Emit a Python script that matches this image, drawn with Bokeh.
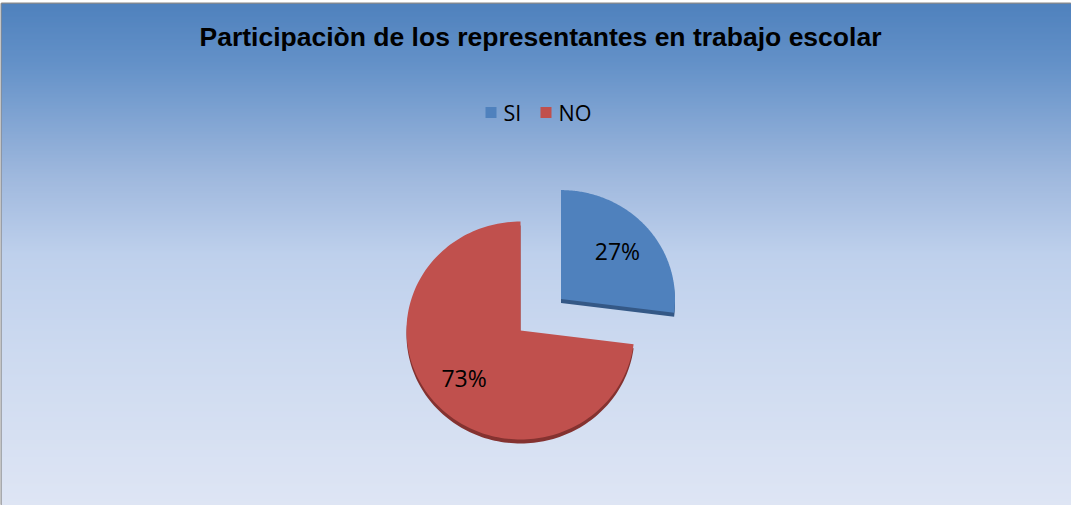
import numpy as np
from bokeh.plotting import figure
from bokeh.models import Range1d, ColumnDataSource
from bokeh.core.properties import value
from bokeh.embed import file_html
from bokeh.resources import INLINE

# ---- data ----
categories = ["SI", "NO"]
percentages = [27, 73]
slice_colors = ["#4f81bd", "#c0504d"]
edge_colors = ["#345886", "#843230"]
title_text = "Participaciòn de los representantes en trabajo escolar"

W, H = 1071, 505
FW, FH = 1070, 502  # frame size in pixels (data units == pixels)

p = figure(width=W, height=H, output_backend="svg", toolbar_location=None,
           x_range=Range1d(0, FW), y_range=Range1d(0, FH),
           min_border_left=1, min_border_top=3, min_border_right=0, min_border_bottom=0)
p.axis.visible = False
p.grid.visible = False
p.border_fill_color = "white"
p.outline_line_color = "#8a8a8a"
p.outline_line_width = 2

# ---- background gradient (style) ----
stops_t = [0.0, 0.12, 0.35, 0.5, 0.7, 1.0]
stops_c = np.array([[79, 129, 189], [100, 145, 200], [160, 185, 222],
                    [190, 208, 236], [205, 218, 240], [222, 229, 244]], dtype=float)
n = FH
ys = np.arange(n)
cols = []
for yy in ys:
    t = 1.0 - (yy + 0.5) / n  # 0 at top
    c = [np.interp(t, stops_t, stops_c[:, k]) for k in range(3)]
    cols.append("#%02x%02x%02x" % tuple(int(round(v)) for v in c))
p.quad(left=0, right=FW, bottom=ys, top=np.minimum(ys + 1.6, FH), fill_color=cols, line_color=None)

# ---- pie (slightly tilted: elliptical) ----
cx, cy = 519, 175
rx, ry = 114, 109
explode = [54, 0]
tilt = 0.88
depth = 4
total = sum(percentages)
fracs = [v / total for v in percentages]
ang = np.pi / 2  # start at 12 o'clock, go clockwise
pxs, pys, dxs, dys, lx, ly = [], [], [], [], [], []
for f, e in zip(fracs, explode):
    end = ang
    start = ang - f * 2 * np.pi
    mid = (start + end) / 2
    x0 = cx + e * np.cos(mid)
    y0 = cy + e * np.sin(mid) * tilt
    t = np.linspace(start, end, 160)
    xs_ = np.concatenate([[x0], x0 + rx * np.cos(t)])
    ys_ = np.concatenate([[y0], y0 + ry * np.sin(t)])
    pxs.append(list(xs_)); pys.append(list(ys_))
    dxs.append(list(xs_)); dys.append(list(ys_ - depth))
    lx.append(x0 + 0.66 * rx * np.cos(mid)); ly.append(y0 + 0.66 * ry * np.sin(mid))
    ang = start

src = ColumnDataSource(dict(xs=pxs, ys=pys, dxs=dxs, dys=dys,
                            color=slice_colors, edge=edge_colors))
p.patches(xs="dxs", ys="dys", fill_color="edge", line_color=None, source=src)
p.patches(xs="xs", ys="ys", fill_color="color", line_color=None, source=src)
p.text(x=lx, y=ly, text=["%d%%" % v for v in percentages], text_align="center",
       text_baseline="middle", text_font=value("Open Sans"), text_font_size="23px",
       text_color="black")

# ---- title ----
p.text(x=[539], y=[FH - 33], text=[title_text], text_align="center", text_baseline="middle",
       text_font=value("Liberation Sans"), text_font_style="bold", text_font_size="26.5px",
       text_color="black")

# ---- legend ----
leg_y = FH - 109
sq = 11
leg_x = [484, 539]
p.rect(x=[x + sq / 2 for x in leg_x], y=[leg_y] * 2, width=sq, height=sq,
       fill_color=slice_colors, line_color=None)
p.text(x=[x + sq + 7 for x in leg_x], y=[leg_y] * 2, text=categories, text_align="left",
       text_baseline="middle", text_font=value("Open Sans"), text_font_size="21.5px",
       text_color="black")

open("out.html", "w").write(file_html(p, INLINE))
